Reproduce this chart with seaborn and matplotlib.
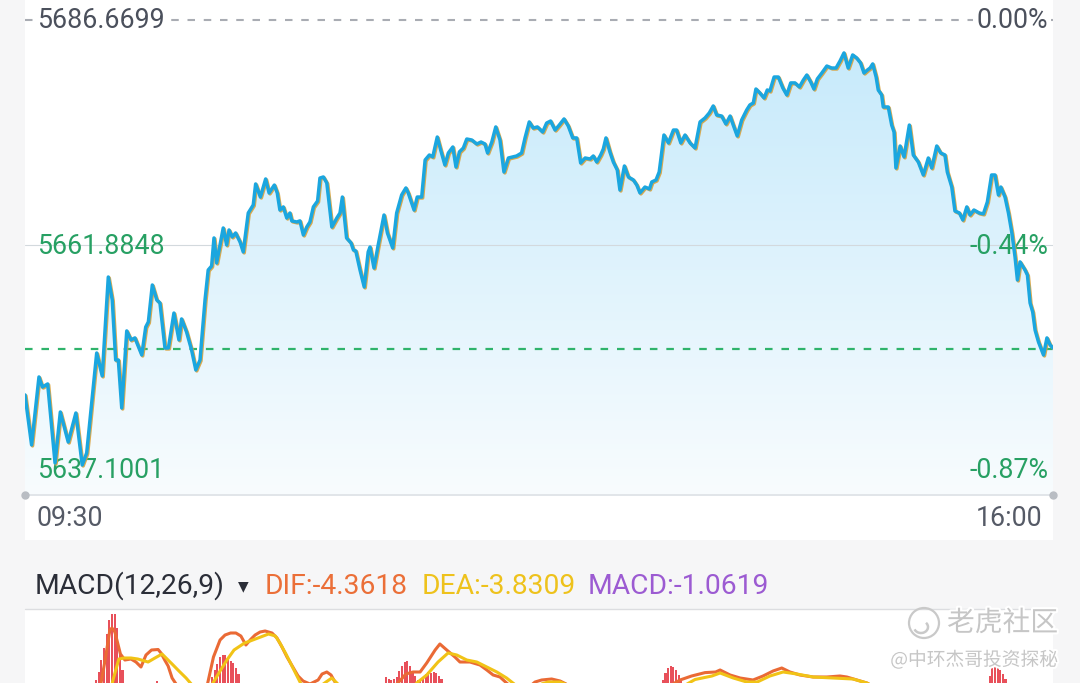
import numpy as np
import pandas as pd
import matplotlib
matplotlib.use("Agg")
import matplotlib.pyplot as plt
import matplotlib.patheffects as pe
from matplotlib.patches import Rectangle, Circle, Arc, Polygon
from matplotlib.colors import LinearSegmentedColormap
from matplotlib import transforms
import seaborn as sns

# intraday index path, minutes after 09:30
minutes = [0, 2.5, 5.3, 6.6, 8.6, 11.4, 13.4, 16.4, 19.3, 21.7,
           23.4, 27.2, 29.3, 31.6, 33.1, 34.4, 35.4, 36.7, 38.6, 40.2,
           41.7, 44.3, 45.8, 46.8, 48.3, 50.0, 51.2, 53.1, 54.4, 56.5,
           58.4, 59.4, 61.3, 63.2, 64.8, 66.4, 68.3, 69.5, 70.8, 71.7,
           72.7, 75.2, 76.5, 77.4, 78.6, 79.9, 81.6, 82.8, 84.7, 86.6,
           87.5, 89.3, 91.3, 92.6, 94.6, 95.7, 96.7, 98.0, 99.3, 100.5,
           101.2, 103.1, 104.3, 105.6, 106.9, 108.1, 109.4, 111.0, 111.9, 113.2,
           114.5, 116.4, 118.3, 119.5, 120.4, 122.0, 123.7, 124.6, 125.5, 127.1,
           128.7, 130.2, 130.9, 132.4, 134.0, 136.2, 137.5, 139.5, 141.0, 142.9,
           144.5, 145.4, 147.6, 148.8, 150.5, 151.8, 153.4, 154.7, 156.4, 157.7,
           159.3, 160.6, 162.3, 163.5, 164.8, 166.3, 167.6, 169.5, 171.4, 173.0,
           174.5, 175.5, 177.1, 178.6, 180.2, 181.7, 183.4, 185.0, 186.5, 188.4,
           189.7, 191.3, 192.8, 194.4, 196.4, 197.9, 199.4, 201.1, 202.7, 204.5,
           206.1, 207.8, 209.3, 210.8, 212.5, 214.4, 215.6, 216.9, 218.4, 219.4,
           220.4, 221.9, 223.2, 224.7, 225.7, 227.4, 228.9, 230.8, 232.1, 233.3,
           235.2, 236.9, 237.8, 239.4, 240.6, 242.4, 244.1, 246.0, 247.2, 248.8,
           250.4, 252.3, 254.2, 256.1, 258.0, 259.6, 261.1, 262.4, 264.3, 265.9,
           267.5, 268.7, 270.2, 271.9, 273.8, 275.0, 276.3, 277.3, 278.8, 280.4,
           281.6, 282.6, 284.2, 285.8, 287.5, 289.0, 290.5, 292.1, 293.8, 295.3,
           296.6, 298.1, 299.3, 300.6, 302.3, 304.2, 306.0, 307.7, 309.2, 310.7,
           312.3, 314.0, 315.5, 317.0, 318.3, 319.6, 320.6, 321.6, 322.9, 323.7,
           325.0, 325.6, 327.5, 328.8, 329.7, 330.4, 332.0, 333.5, 335.5, 337.0,
           338.9, 340.8, 342.7, 344.0, 345.9, 347.4, 349.0, 349.9, 351.6, 352.8,
           354.5, 355.8, 357.3, 358.5, 360.0, 362.0, 363.6, 365.1, 366.7, 368.0,
           369.3, 370.2, 371.8, 373.1, 374.4, 375.6, 376.5, 377.5, 379.4, 380.3,
           381.3, 382.3, 383.2, 384.5, 386.4, 387.7, 388.9, 390.0]
prices = [5645.37, 5639.86, 5647.35, 5646.24, 5646.58, 5637.87, 5643.49, 5640.18, 5643.38, 5637.65,
          5638.97, 5649.99, 5647.46, 5658.36, 5655.83, 5649.22, 5649.22, 5643.93, 5652.42, 5651.43,
          5651.65, 5649.77, 5652.85, 5653.41, 5657.48, 5655.83, 5655.50, 5650.54, 5650.54, 5654.39,
          5651.43, 5653.74, 5652.30, 5650.32, 5648.12, 5649.22, 5655.83, 5659.13, 5659.57, 5662.66,
          5659.90, 5663.76, 5661.89, 5663.54, 5662.77, 5663.21, 5662.21, 5661.12, 5665.41, 5666.30,
          5668.61, 5667.17, 5669.16, 5667.62, 5668.49, 5667.62, 5665.74, 5666.08, 5664.86, 5665.41,
          5664.54, 5664.42, 5664.54, 5662.99, 5663.87, 5664.42, 5666.08, 5666.73, 5669.26, 5669.38,
          5668.72, 5663.87, 5664.86, 5665.41, 5667.17, 5662.66, 5662.11, 5661.34, 5661.23, 5659.13,
          5657.26, 5661.12, 5661.66, 5659.35, 5661.89, 5665.19, 5663.21, 5661.56, 5665.41, 5667.40,
          5668.17, 5667.62, 5665.74, 5667.17, 5667.17, 5671.25, 5671.80, 5671.59, 5673.78, 5672.36,
          5670.70, 5672.02, 5672.68, 5670.48, 5672.14, 5672.57, 5673.56, 5673.45, 5673.01, 5673.23,
          5673.01, 5672.02, 5673.23, 5674.89, 5673.45, 5669.93, 5671.47, 5671.59, 5671.69, 5672.02,
          5673.68, 5675.44, 5674.77, 5674.89, 5674.33, 5675.32, 5675.54, 5674.55, 5675.10, 5675.77,
          5675.00, 5673.68, 5673.68, 5670.92, 5671.47, 5671.36, 5671.69, 5671.03, 5671.80, 5672.46,
          5673.68, 5672.14, 5671.03, 5670.15, 5667.94, 5670.59, 5669.38, 5669.05, 5668.49, 5667.62,
          5668.27, 5668.06, 5668.83, 5669.05, 5669.93, 5674.00, 5673.13, 5674.55, 5674.55, 5673.13,
          5674.00, 5673.13, 5672.57, 5675.44, 5675.88, 5676.43, 5677.20, 5676.21, 5676.09, 5675.22,
          5676.09, 5675.10, 5673.90, 5675.66, 5676.76, 5677.31, 5677.53, 5679.07, 5678.63, 5678.08,
          5678.96, 5678.85, 5680.39, 5680.39, 5679.19, 5678.42, 5679.74, 5679.74, 5679.29, 5680.06,
          5680.61, 5679.84, 5679.07, 5680.18, 5680.83, 5681.60, 5681.38, 5681.38, 5682.15, 5683.04,
          5681.38, 5682.82, 5682.49, 5681.94, 5680.83, 5681.16, 5681.38, 5681.83, 5680.39, 5678.96,
          5678.42, 5677.09, 5677.09, 5675.10, 5674.33, 5670.37, 5672.79, 5671.59, 5675.10, 5671.80,
          5671.03, 5669.60, 5671.47, 5670.37, 5672.79, 5672.02, 5671.80, 5669.93, 5668.27, 5665.63,
          5665.41, 5664.64, 5666.08, 5665.19, 5665.74, 5665.41, 5665.31, 5666.63, 5669.60, 5669.60,
          5667.40, 5668.27, 5667.17, 5665.41, 5663.21, 5660.57, 5658.03, 5660.02, 5659.13, 5658.58,
          5655.50, 5654.51, 5652.52, 5651.20, 5649.77, 5651.65, 5650.88, 5650.54]

prev_close = 5686.6699
mid_level = 5661.8848
low_level = 5637.1001
last_price = 5650.43
left_labels = ["5686.6699", "5661.8848", "5637.1001"]
right_labels = ["0.00%", "-0.44%", "-0.87%"]
time_labels = ["09:30", "16:00"]

# MACD panel (only the top of it is visible)
dif_min = [28.5, 30.4, 32.2, 33.0, 34.1, 36.2, 37.9, 40.2, 42.1, 44.0,
           45.9, 48.0, 50.5, 51.6, 53.1, 54.3, 55.8, 57.3, 60.7, 66.4,
           68.9, 71.5, 74.0, 75.9, 78.0, 80.0, 81.9, 83.8, 85.4, 87.3,
           89.2, 91.1, 93.7, 95.6, 97.5, 99.4, 101.6, 103.6, 105.5, 108.1,
           111.2, 112.7, 114.5, 116.1, 117.6, 119.5, 127.1, 136.6, 141.5, 144.5,
           147.2, 149.9, 152.4, 155.6, 157.4, 160.0, 163.1, 165.0, 168.8, 172.6,
           175.2, 177.6, 180.2, 182.7, 185.9, 190.8, 193.5, 196.0, 199.8, 203.0,
           206.8, 214.4, 233.3, 242.8, 245.1, 248.5, 252.9, 258.0, 262.0, 263.7,
           267.5, 271.3, 276.2, 280.0, 283.8, 287.1, 290.2, 294.0, 299.0, 304.2,
           309.2, 311.8, 315.6, 319.4, 324.4, 339.6, 354.7, 364.2, 390.0]
dif_val = [2.5, 5.3, 8.3, 8.5, 8.1, 5.9, 5.3, 5.4, 5.1, 4.6,
           5.8, 6.3, 6.35, 6.0, 5.25, 4.7, 3.5, 2.9, 2.3, 2.1,
           2.5, 5.6, 7.3, 7.8, 8.0, 8.0, 7.7, 6.8, 7.3, 7.8,
           8.1, 8.2, 8.0, 7.5, 6.6, 5.6, 4.6, 3.7, 3.2, 2.9,
           3.3, 3.9, 4.1, 3.8, 3.1, 2.3, 1.8, 2.1, 3.0, 3.9,
           4.1, 4.1, 5.0, 6.3, 6.9, 6.3, 5.6, 5.1, 5.1, 4.8,
           4.3, 3.8, 3.6, 3.0, 2.3, 2.5, 3.1, 3.3, 3.4, 3.2,
           2.7, 2.0, 1.8, 2.3, 2.8, 3.3, 3.7, 4.04, 4.1, 4.3,
           3.8, 3.5, 3.3, 3.7, 4.2, 4.5, 4.1, 3.8, 3.6, 3.6,
           3.7, 3.6, 3.3, 3.0, 2.3, 1.5, 1.8, 2.1, 1.3]
dea_min = [31.5, 33.6, 35.6, 37.6, 40.2, 42.8, 46.7, 49.3, 52.0, 53.9,
           55.8, 58.4, 61.1, 63.4, 68.3, 70.2, 74.0, 76.6, 79.3, 83.3,
           85.4, 88.4, 92.4, 95.0, 96.7, 99.0, 102.8, 105.5, 110.0, 114.2,
           116.4, 118.7, 121.4, 134.7, 146.0, 148.6, 152.4, 156.7, 160.5, 163.8,
           167.6, 171.4, 175.2, 179.0, 182.7, 185.1, 188.6, 193.5, 198.4, 203.0,
           206.8, 214.4, 237.1, 248.5, 254.2, 260.6, 263.7, 268.7, 273.8, 277.8,
           282.6, 287.6, 292.8, 299.0, 306.5, 314.1, 319.4, 324.4, 343.3, 390.0]
dea_val = [1.3, 3.5, 5.4, 5.5, 5.5, 5.4, 5.1, 5.5, 5.9, 5.4,
           4.9, 4.2, 3.5, 2.8, 1.7, 2.5, 4.2, 5.3, 6.3, 7.0,
           7.2, 7.5, 7.9, 7.7, 7.0, 5.9, 3.9, 2.5, 2.3, 3.1,
           3.5, 2.9, 2.1, 1.6, 2.1, 3.0, 3.8, 5.1, 6.0, 5.8,
           5.3, 5.1, 4.6, 4.1, 3.5, 3.0, 2.3, 2.7, 3.1, 3.1,
           2.7, 1.9, 1.6, 2.5, 3.35, 3.7, 4.0, 3.5, 3.1, 3.1,
           3.7, 4.1, 3.9, 3.6, 3.5, 3.4, 3.0, 2.3, 1.6, 1.4]
hist_min = (list(range(27, 38)) + [50] + list(range(71, 82)) + list(range(137, 159))
            + list(range(242, 250)) + list(range(366, 374)))
hist_val = [3.3, 4.1, 5.3, 6.5, 7.9, 9.3, 9.9, 9.9, 8.5, 6.1, 4.3,
            3.2,
            3.6, 4.3, 4.9, 5.6, 5.8, 5.8, 5.5, 5.2, 5.0, 4.5, 3.9,
            3.6, 3.4, 3.3, 3.4, 3.6, 4.2, 4.7, 5.1, 5.2, 4.7, 4.2, 3.7, 3.3, 3.3,
            3.6, 3.9, 4.1, 4.0, 4.1, 4.0, 3.7, 3.4,
            3.3, 4.0, 4.5, 4.7, 4.6, 4.3, 3.8, 3.3,
            3.7, 4.7, 5.0, 4.7, 4.3, 3.9, 3.4, 3.0]

sns.set_theme(style="white")
plt.rcParams["font.family"] = ["Roboto", "Noto Sans CJK SC", "DejaVu Sans"]

W, H = 1080, 683
fig = plt.figure(figsize=(W / 100, H / 100), dpi=100)
fig.patch.set_facecolor("#f6f6f7")


def box(x0, y0, x1, y1):
    # pixel box (top-left origin) -> figure fraction rect
    return [x0 / W, 1 - y1 / H, (x1 - x0) / W, (y1 - y0) / H]


# white panels
for r in (box(25, 0, 1053, 540), box(25, 610, 1053, 683)):
    fig.add_artist(Rectangle((r[0], r[1]), r[2], r[3], transform=fig.transFigure,
                             facecolor="white", edgecolor="none", zorder=0))
fig.add_artist(plt.Line2D([25 / W, 1053 / W], [1 - 609 / H] * 2, transform=fig.transFigure,
                          color="#dcdde0", lw=1.0))

# ---- price panel ----
# levels sit at px 20 / 245 / 470, the plot floor is at px 495
ax = fig.add_axes(box(25, 20, 1053, 495))
ax.set_facecolor("none")
y_floor = prev_close - (prev_close - low_level) * 475 / 450
ax.set_xlim(0, 390)
ax.set_ylim(y_floor, prev_close)
ax.set_axis_off()

grad = np.linspace(0, 1, 256).reshape(-1, 1)
cmap = LinearSegmentedColormap.from_list("fill", ["#c4e9fb", "#f8fcfe"])
im = ax.imshow(grad, extent=[0, 390, y_floor, prev_close], aspect="auto",
               cmap=cmap, origin="upper", zorder=1)
verts = [(minutes[0], y_floor)] + list(zip(minutes, prices)) + [(minutes[-1], y_floor)]
poly = Polygon(verts, closed=True, facecolor="none", edgecolor="none", transform=ax.transData)
ax.add_patch(poly)
im.set_clip_path(poly)

ax.axhline(prev_close, color="#a9acb3", lw=1.5, dashes=(3.6, 4.2), zorder=2, clip_on=False)
ax.axhline(mid_level, color="#d3d9dd", lw=0.8, zorder=2)
ax.axhline(last_price, color="#2fb36b", lw=1.6, dashes=(3.4, 4.0), zorder=2)
ax.axhline(y_floor, color="#e1e5e9", lw=1.4, zorder=2, clip_on=False)
ax.plot([0, 390], [y_floor, y_floor], "o", ms=5, color="#b9bdc3", clip_on=False, zorder=2)

sns.lineplot(x=minutes, y=prices, ax=ax, color="#1ba6df", lw=2.5, estimator=None, sort=False,
             zorder=4, path_effects=[pe.SimpleLineShadow(offset=(0.7, -0.7), shadow_color="#d9a23c",
                                                         alpha=0.9), pe.Normal()])

gray_txt = "#4b505c"
green_txt = "#27a063"
ytr = ax.get_yaxis_transform()
lx, rx = 12 / 1028, 1023 / 1028
levels = [prev_close, mid_level, low_level]
offs = [0, -1.4, -0.7]
for i, lv in enumerate(levels):
    col = gray_txt if i == 0 else green_txt
    bb = dict(boxstyle="square,pad=0.12", fc="white", ec="none") if i == 0 else None
    ax.annotate(left_labels[i], xy=(lx, lv), xycoords=ytr, xytext=(0, offs[i]),
                textcoords="offset points", ha="left", va="center", color=col,
                fontsize=19.3, bbox=bb, zorder=3, annotation_clip=False)
    ax.annotate(right_labels[i], xy=(rx, lv), xycoords=ytr, xytext=(0, offs[i]),
                textcoords="offset points", ha="right", va="center", color=col,
                fontsize=19.3, bbox=bb, zorder=3, annotation_clip=False)

fig.text(37 / W, 1 - 519 / H, time_labels[0], ha="left", va="center", color="#555a66", fontsize=19.3)
fig.text(1042 / W, 1 - 519 / H, time_labels[1], ha="right", va="center", color="#555a66", fontsize=19.3)

# ---- MACD header ----
hy = 1 - 586 / H
fig.text(35 / W, hy, "MACD(12,26,9)", ha="left", va="center", color="#2b2e38", fontsize=20.3)
fig.text(243 / W, hy, "▼", ha="center", va="center", color="#2b2e38", fontsize=10,
         family=["DejaVu Sans"])
fig.text(265 / W, hy, "DIF:-4.3618", ha="left", va="center", color="#eb6f38", fontsize=20.3)
fig.text(422 / W, hy, "DEA:-3.8309", ha="left", va="center", color="#eec21c", fontsize=20.3)
fig.text(588 / W, hy, "MACD:-1.0619", ha="left", va="center", color="#9c5bd2", fontsize=20.3)

# ---- MACD panel ----
axm = fig.add_axes(box(25, 611, 1053, 683))
axm.set_facecolor("none")
axm.set_xlim(0, 390)
axm.set_ylim(3.0, 10.2)
axm.set_axis_off()
axm.bar(hist_min, hist_val, width=0.8, color="#e8505a", edgecolor="none", zorder=2)
sns.lineplot(x=dif_min, y=dif_val, ax=axm, color="#ea6a35", lw=2.2, estimator=None, sort=False, zorder=3)
sns.lineplot(x=dea_min, y=dea_val, ax=axm, color="#f1c316", lw=2.2, estimator=None, sort=False, zorder=4)

# ---- watermark ----
halo = [pe.withStroke(linewidth=3, foreground="white")]
ident = transforms.IdentityTransform()
fig.add_artist(Circle((924, H - 623), 15, transform=ident, facecolor="none",
                      edgecolor="#c9c9c9", lw=1.6, zorder=10))
fig.add_artist(Arc((921, H - 627), 14, 12, theta1=200, theta2=40, transform=ident,
                   edgecolor="#c9c9c9", lw=1.8, zorder=10))
fig.text(1058 / W, 1 - 623 / H, "老虎社区", ha="right", va="center", color="#c6c6c6",
         fontsize=20, family=["Noto Sans CJK SC"], path_effects=halo, zorder=10)
fig.text(1058 / W, 1 - 660 / H, "@中环杰哥投资探秘", ha="right", va="center", color="#c6c6c6",
         fontsize=13.5, family=["Noto Sans CJK SC", "DejaVu Sans"], path_effects=halo, zorder=10)

fig.savefig("out.png", dpi=100, facecolor=fig.get_facecolor())
